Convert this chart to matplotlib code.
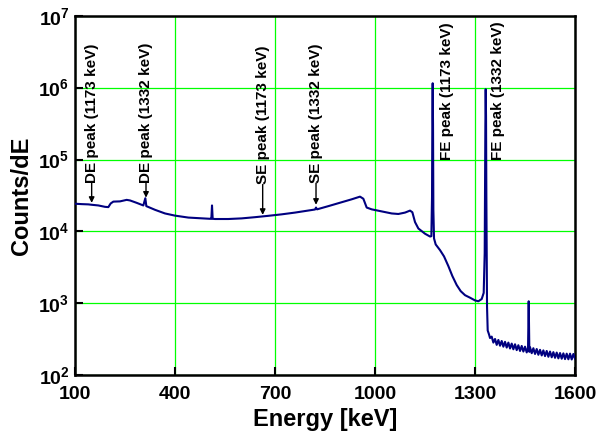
import numpy as np
import matplotlib.pyplot as plt
from matplotlib.ticker import FixedLocator, FixedFormatter, NullLocator

plt.rcParams['font.family'] = ['Liberation Sans', 'DejaVu Sans']
plt.rcParams['font.weight'] = 'bold'
plt.rcParams['mathtext.fontset'] = 'custom'
plt.rcParams['mathtext.rm'] = 'Liberation Sans:bold'
plt.rcParams['mathtext.bf'] = 'Liberation Sans:bold'

# spectrum (energy in keV, counts/dE)
energy = [100, 120, 140, 150, 170, 190, 200, 207, 215, 235, 255, 265, 285, 305,
          311, 314, 340, 370, 400, 440, 480, 505, 509, 511, 513, 520, 560, 600,
          640, 680, 720, 760, 800, 820, 823, 826, 860, 900, 930, 955, 965, 975,
          990, 1020, 1050, 1070, 1090, 1105, 1112, 1120, 1130, 1150, 1165, 1169,
          1171, 1172, 1173, 1174, 1175, 1177, 1182, 1195, 1207, 1220, 1232, 1245,
          1257, 1270, 1285, 1300, 1310, 1320, 1326, 1329, 1331, 1332, 1333, 1334,
          1336, 1338, 1342, 1345,
          1350, 1355, 1360, 1365, 1370, 1375, 1380, 1385, 1390, 1395, 1400, 1405,
          1410, 1415, 1420, 1425, 1430, 1435, 1440, 1445, 1450, 1455, 1459, 1461,
          1463, 1465, 1470, 1475, 1480, 1485, 1490, 1495, 1500, 1505, 1510, 1515,
          1520, 1525, 1530, 1535, 1540, 1545, 1550, 1555, 1560, 1565, 1570, 1575,
          1580, 1585, 1590, 1595, 1600]
counts = [24300, 24000, 23800, 23500, 23000, 22000, 21800, 24500, 26000, 26200,
          27500, 27000, 25000, 23000, 29000, 22500, 20000, 17800, 16600, 15600,
          15200, 15000, 15000, 23000, 15000, 14900, 14900, 15200, 15800, 16500,
          17300, 18300, 19500, 20200, 21500, 20300, 22500, 25500, 28000, 30500,
          28500, 21500, 20300, 19000, 17800, 17500, 18300, 19500, 18500, 13500,
          11000, 9300, 8500, 8600, 30000, 400000, 1150000, 300000, 20000, 8000,
          6600, 5500, 4500, 3300, 2400, 1800, 1480, 1300, 1200, 1100, 1070, 1150,
          1400, 5000, 300000, 950000, 400000, 30000, 900, 420, 370, 330,
          345, 285, 320, 265, 310, 258, 300, 250, 292, 243, 285, 236,
          276, 230, 270, 224, 262, 218, 256, 214, 250, 208, 240, 1070,
          212, 245, 203, 238, 198, 232, 193, 226, 189, 222, 185, 218,
          181, 214, 178, 210, 175, 207, 172, 204, 170, 202, 168, 200,
          167, 200, 166, 198, 170]

# annotations: label, arrow tip (E, counts), text foot (counts), arrow?
labels = ['DE peak (1173 keV)', 'DE peak (1332 keV)', 'SE peak (1173 keV)',
          'SE peak (1332 keV)', 'FE peak (1173 keV)', 'FE peak (1332 keV)']
tip_e = [150, 313, 663, 823, 1215, 1369]
tip_c = [25000, 29500, 17000, 23500, 98000, 98000]
foot_c = [47000, 47000, 45000, 47000, 98000, 98000]
has_arrow = [True, True, True, True, False, False]

xticks = [100, 400, 700, 1000, 1300, 1600]
yticks = [1e2, 1e3, 1e4, 1e5, 1e6, 1e7]
ytick_labels = [r'$\mathbf{10^{%d}}$' % p for p in range(2, 8)]

fig = plt.figure(figsize=(5.99, 4.36), dpi=100)
ax = fig.add_axes([0.1252, 0.1392, 0.8348, 0.8248])

ax.plot(energy, counts, color='#000080', lw=1.5, zorder=3)
ax.set_yscale('log')
ax.set_xlim(100, 1600)
ax.set_ylim(1e2, 1e7)

ax.xaxis.set_major_locator(FixedLocator(xticks))
ax.yaxis.set_major_locator(FixedLocator(yticks))
ax.yaxis.set_major_formatter(FixedFormatter(ytick_labels))
ax.yaxis.set_minor_locator(NullLocator())
ax.grid(True, color='#00ff00', lw=0.9, zorder=1)
ax.set_axisbelow(True)

for s in ax.spines.values():
    s.set_linewidth(1.8)
ax.tick_params(direction='in', length=6, width=1.5, labelsize=14, pad=4)
ax.tick_params(axis='x', pad=8)
for t in ax.get_xticklabels():
    t.set_fontweight('bold')

ax.set_xlabel('Energy [keV]', fontsize=17, fontweight='bold', labelpad=3)
ax.set_ylabel('Counts/dE', fontsize=17, fontweight='bold', labelpad=4)

for lab, e, tc, fc, arr in zip(labels, tip_e, tip_c, foot_c, has_arrow):
    ax.text(e, fc, lab, rotation=90, ha='center', va='bottom',
            fontsize=11, fontweight='bold', zorder=4)
    if arr:
        ax.annotate('', xy=(e, tc), xytext=(e, fc),
                    arrowprops=dict(arrowstyle='-|>', color='black', lw=1,
                                    mutation_scale=8, shrinkA=0, shrinkB=0),
                    zorder=4)

fig.savefig('out.png', dpi=100)
